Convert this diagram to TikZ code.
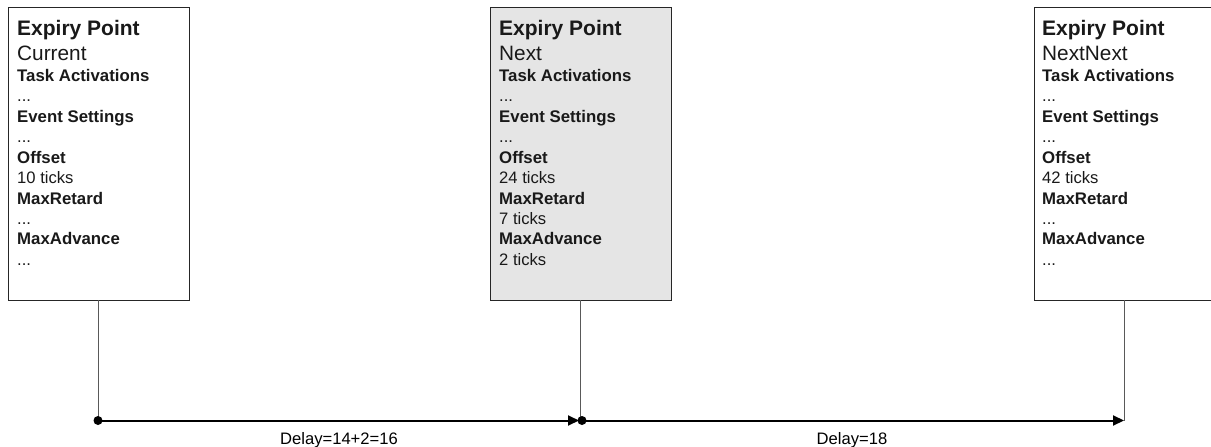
\documentclass[tikz,border=0pt]{standalone}
\usepackage{fontspec}
\setmainfont{Liberation Sans}
\usetikzlibrary{arrows.meta}

% Text lines of one expiry point box: name, left x, label, offset, retard, advance
\newcommand\expirylines[6]{%
  \node[ttl] (#1-t)  at (#2,-35)   {Expiry Point};
  \node[lbl] (#1-n)  at (#2,-60)   {#3};
  \node[hd]  (#1-h1) at (#2,-81)   {Task Activations};
  \node[vl]  (#1-v1) at (#2,-101.5){...};
  \node[hd]  (#1-h2) at (#2,-122)  {Event Settings};
  \node[vl]  (#1-v2) at (#2,-142.5){...};
  \node[hd]  (#1-h3) at (#2,-163)  {Offset};
  \node[vl]  (#1-v3) at (#2,-183.5){#4};
  \node[hd]  (#1-h4) at (#2,-204)  {MaxRetard};
  \node[vl]  (#1-v4) at (#2,-224.5){#5};
  \node[hd]  (#1-h5) at (#2,-244.5){MaxAdvance};
  \node[vl]  (#1-v5) at (#2,-265)  {#6};
}

\begin{document}
\begin{tikzpicture}[x=1pt,y=1pt,
  epbox/.style={draw=black!85,line width=0.9pt,minimum width=181pt,minimum height=293pt,inner sep=0pt},
  txt/.style={anchor=base west,inner sep=0pt,text=black!90},
  ttl/.style={txt,font=\fontsize{21}{24}\selectfont\bfseries},
  lbl/.style={txt,font=\fontsize{20.8}{24}\selectfont},
  hd/.style={txt,font=\fontsize{16.8}{20}\selectfont\bfseries},
  vl/.style={txt,font=\fontsize{16.6}{20}\selectfont},
  stem/.style={draw=black!65,line width=1pt},
  axis/.style={draw=black,line width=2pt,-{Triangle[length=11pt,width=10pt]}},
  dot/.style={circle,fill=black,inner sep=0pt,minimum size=9pt},
  delay/.style={anchor=base,inner sep=0pt,font=\fontsize{16.6}{20}\selectfont}]
\useasboundingbox (0,0) rectangle (1211,-447);
\clip (0,0) rectangle (1211,-447);

% expiry point boxes
\node[epbox] (cur)  at (98.5,-153.5) {};
\node[epbox,fill=black!10] (nxt) at (580.5,-153.5) {};
\node[epbox] (nn)   at (1124.5,-153.5) {};

\expirylines{c}{17}{Current}{10 ticks}{...}{...}
\expirylines{n}{499}{Next}{24 ticks}{7 ticks}{2 ticks}
\expirylines{m}{1042}{NextNext}{42 ticks}{...}{...}

% time axis points
\coordinate (p1) at (98,-420.5);
\coordinate (p2) at (580,-420.5);
\coordinate (p3) at (1124,-420.5);

% stems from each box down to the axis
\draw[stem] (cur.south -| p1) -- (p1);
\draw[stem] (nxt.south -| p2) -- (p2);
\draw[stem] (nn.south -| p3) -- (p3);

% axis segments
\draw[axis] (p1) -- ([xshift=-1pt]p2);
\draw[axis] (p2) -- (p3);
\node[dot] (d1) at (p1) {};
\node[dot] (d2) at ([xshift=2pt]p2) {};

% delay labels
\node[delay] (l1) at (339,-444) {Delay=14+2=16};
\node[delay] (l2) at (852,-444) {Delay=18};
\end{tikzpicture}
\end{document}
